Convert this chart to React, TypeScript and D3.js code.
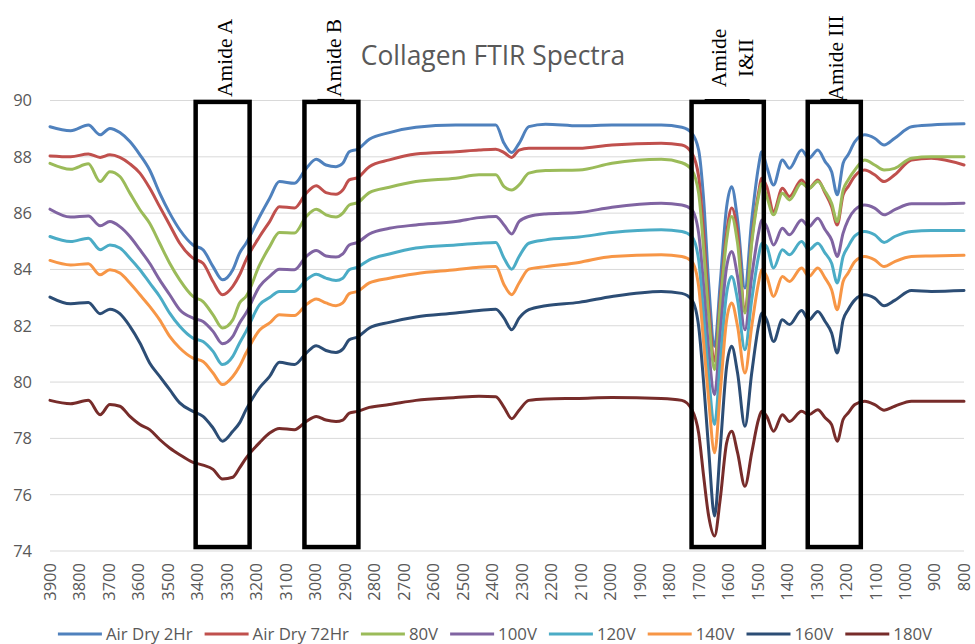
import React, { useEffect, useRef } from "react";
import * as d3 from "d3";

// wavenumber (cm-1) sample points
const wavenumbers = [
  3900, 3830, 3770, 3730, 3697, 3663, 3629, 3595, 3562, 3528,
  3494, 3460, 3415, 3381, 3347, 3315, 3280, 3257, 3235, 3189,
  3155, 3122, 3071, 3031, 2997, 2964, 2930, 2907, 2885, 2857,
  2817, 2749, 2659, 2524, 2445, 2388, 2360, 2334, 2309, 2276,
  2219, 2106, 1994, 1827, 1757, 1723, 1700, 1683, 1666, 1646,
  1627, 1605, 1588, 1568, 1543, 1520, 1497, 1486, 1469, 1446,
  1416, 1392, 1351, 1326, 1296, 1271, 1249, 1230, 1210, 1193,
  1170, 1137, 1103, 1071, 1035, 978, 911, 800,
];

const airDry2Hr = [
  89.07, 88.93, 89.13, 88.78, 89.01, 88.86, 88.54, 88.07, 87.53, 86.71,
  86.0, 85.41, 84.87, 84.7, 84.1, 83.63, 83.99, 84.58, 84.93, 85.88,
  86.53, 87.12, 87.06, 87.59, 87.91, 87.71, 87.65, 87.77, 88.18, 88.27,
  88.62, 88.86, 89.05, 89.13, 89.13, 89.13, 88.48, 88.15, 88.48, 89.07,
  89.16, 89.1, 89.13, 89.13, 89.05, 88.84, 88.24, 86.47, 83.5, 81.27,
  83.5, 86.23, 86.94, 85.76, 83.34, 85.76, 87.65, 88.18, 87.65, 87.0,
  87.89, 87.59, 88.24, 87.95, 88.24, 87.83, 87.47, 86.65, 87.77, 88.07,
  88.54, 88.78, 88.66, 88.42, 88.66, 89.07, 89.13, 89.17,
];

const airDry72Hr = [
  88.03, 88.0, 88.1, 87.98, 88.07, 87.98, 87.75, 87.42, 86.89, 86.23,
  85.58, 84.93, 84.4, 84.22, 83.57, 83.1, 83.4, 83.81, 84.34, 85.17,
  85.7, 86.23, 86.18, 86.71, 86.97, 86.73, 86.67, 86.82, 87.18, 87.26,
  87.65, 87.89, 88.1, 88.18, 88.24, 88.27, 88.15, 87.98, 88.24, 88.3,
  88.3, 88.3, 88.42, 88.48, 88.42, 88.13, 87.3, 85.28, 82.69, 80.75,
  82.92, 85.3, 86.18, 85.3, 82.5, 85.05, 86.71, 87.24, 86.94, 86.06,
  86.88, 86.59, 87.18, 86.88, 87.18, 86.71, 86.23, 85.58, 86.65, 86.94,
  87.32, 87.53, 87.36, 87.12, 87.36, 87.89, 87.95, 87.71,
];

const v80 = [
  87.77, 87.56, 87.75, 87.12, 87.47, 87.3, 86.71, 86.12, 85.64, 84.93,
  84.22, 83.63, 83.04, 82.86, 82.39, 81.92, 82.21, 82.81, 83.04, 84.16,
  84.81, 85.31, 85.29, 85.88, 86.14, 85.94, 85.86, 86.0, 86.29, 86.37,
  86.73, 86.92, 87.12, 87.24, 87.36, 87.36, 86.94, 86.82, 87.0, 87.42,
  87.51, 87.53, 87.77, 87.91, 87.79, 87.53, 86.71, 84.7, 82.33, 80.44,
  82.69, 85.05, 85.88, 84.93, 82.45, 84.93, 86.59, 87.06, 86.59, 85.94,
  86.71, 86.47, 87.06, 86.88, 87.12, 86.77, 86.35, 85.7, 86.82, 87.18,
  87.53, 87.89, 87.71, 87.53, 87.59, 87.95, 88.0, 88.0,
];

const v100 = [
  86.14, 85.86, 85.9, 85.55, 85.7, 85.52, 85.17, 84.7, 84.22, 83.63,
  83.1, 82.57, 82.27, 82.15, 81.8, 81.36, 81.62, 82.1, 82.45, 83.4,
  83.75, 84.01, 83.99, 84.46, 84.67, 84.48, 84.44, 84.55, 84.87, 84.96,
  85.26, 85.46, 85.58, 85.7, 85.84, 85.88, 85.58, 85.26, 85.7, 85.88,
  85.97, 86.02, 86.21, 86.35, 86.29, 86.12, 85.29, 83.4, 81.15, 79.55,
  81.74, 84.1, 84.64, 83.75, 81.86, 83.75, 85.29, 85.76, 85.52, 84.87,
  85.46, 85.23, 85.76, 85.52, 85.82, 85.41, 85.05, 84.46, 85.29, 85.76,
  86.12, 86.29, 86.18, 85.94, 86.12, 86.33, 86.33, 86.35,
];

const v120 = [
  85.17, 84.99, 85.11, 84.7, 84.87, 84.76, 84.4, 83.99, 83.52, 83.04,
  82.45, 81.98, 81.56, 81.44, 81.09, 80.62, 80.91, 81.39, 81.8, 82.75,
  83.0, 83.22, 83.22, 83.63, 83.83, 83.69, 83.61, 83.69, 83.99, 84.08,
  84.34, 84.55, 84.76, 84.87, 84.93, 84.96, 84.4, 84.01, 84.46, 84.93,
  85.05, 85.15, 85.31, 85.41, 85.35, 85.17, 84.34, 82.33, 80.2, 78.49,
  80.68, 83.16, 83.75, 82.92, 81.15, 82.92, 84.46, 84.93, 84.81, 84.05,
  84.7, 84.52, 84.99, 84.7, 84.93, 84.58, 84.22, 83.52, 84.46, 84.81,
  85.19, 85.35, 85.23, 84.96, 85.17, 85.35, 85.38, 85.38,
];

const v140 = [
  84.32, 84.16, 84.2, 83.81, 83.99, 83.87, 83.52, 83.1, 82.69, 82.21,
  81.62, 81.21, 80.85, 80.73, 80.32, 79.91, 80.2, 80.56, 81.03, 81.85,
  82.1, 82.39, 82.36, 82.75, 82.95, 82.81, 82.71, 82.81, 83.14, 83.22,
  83.52, 83.69, 83.85, 83.99, 84.08, 84.1, 83.46, 83.1, 83.52, 84.01,
  84.1, 84.25, 84.46, 84.52, 84.46, 84.28, 83.4, 81.39, 79.38, 77.49,
  79.61, 82.21, 82.81, 81.98, 80.32, 81.98, 83.52, 83.99, 83.75, 83.04,
  83.75, 83.57, 84.05, 83.75, 84.05, 83.69, 83.28, 82.57, 83.57, 83.87,
  84.28, 84.46, 84.34, 84.1, 84.28, 84.46, 84.48, 84.5,
];

const v160 = [
  83.02, 82.78, 82.83, 82.43, 82.59, 82.43, 81.98, 81.39, 80.68, 80.2,
  79.73, 79.26, 78.96, 78.78, 78.37, 77.9, 78.25, 78.55, 79.02, 79.8,
  80.2, 80.7, 80.62, 81.03, 81.29, 81.12, 81.05, 81.17, 81.5, 81.6,
  81.92, 82.12, 82.31, 82.45, 82.54, 82.59, 82.27, 81.86, 82.27, 82.57,
  82.71, 82.83, 83.04, 83.22, 83.15, 82.92, 81.98, 79.97, 77.6, 75.24,
  77.6, 80.56, 81.27, 80.32, 78.43, 80.32, 81.98, 82.45, 82.21, 81.44,
  82.21, 82.04, 82.54, 82.21, 82.51, 82.15, 81.74, 81.03, 82.21, 82.57,
  82.92, 83.1, 82.98, 82.71, 82.9, 83.25, 83.22, 83.25,
];

const v180 = [
  79.35, 79.23, 79.35, 78.84, 79.2, 79.14, 78.78, 78.49, 78.31, 77.96,
  77.66, 77.42, 77.15, 77.05, 76.9, 76.56, 76.62, 76.95, 77.3, 77.85,
  78.19, 78.35, 78.31, 78.6, 78.78, 78.65, 78.6, 78.65, 78.9, 78.96,
  79.1, 79.2, 79.35, 79.45, 79.5, 79.48, 79.1, 78.7, 79.0, 79.35,
  79.4, 79.42, 79.45, 79.42, 79.35, 79.02, 78.19, 76.65, 75.24, 74.53,
  75.83, 77.84, 78.25, 77.49, 76.3, 77.49, 78.67, 78.96, 78.78, 78.25,
  78.84, 78.6, 78.96, 78.84, 79.02, 78.73, 78.49, 77.9, 78.67, 78.9,
  79.2, 79.32, 79.2, 79.0, 79.14, 79.32, 79.32, 79.32,
];

const seriesNames = ["Air Dry 2Hr", "Air Dry 72Hr", "80V", "100V", "120V", "140V", "160V", "180V"];
const seriesValues = [airDry2Hr, airDry72Hr, v80, v100, v120, v140, v160, v180];
const seriesColors = ["#4F81BD", "#C0504D", "#9BBB59", "#8064A2", "#4BACC6", "#F79646", "#2C4D75", "#772C2A"];

const yTicks = [74, 76, 78, 80, 82, 84, 86, 88, 90];
const xTicks = [
  3900, 3800, 3700, 3600, 3500, 3400, 3300, 3200, 3100, 3000, 2900, 2800, 2700, 2600, 2500, 2400,
  2300, 2200, 2100, 2000, 1900, 1800, 1700, 1600, 1500, 1400, 1300, 1200, 1100, 1000, 900, 800,
];

// annotation boxes: wavenumber range + label lines
const amideLabels = [["Amide A"], ["Amide B"], ["Amide", "I&II"], ["Amide III"]];
const amideFrom = [3406, 3037, 1724, 1330];
const amideTo = [3223, 2854, 1479, 1150];

export default function App() {
  const svgRef = useRef<SVGSVGElement>(null);

  useEffect(() => {
    const w = 975;
    const h = 644;
    const svg = d3.select(svgRef.current).attr("width", w).attr("height", h);
    svg.selectAll("*").remove();

    const sans = "'Open Sans', sans-serif";
    const gray = "#595959";

    const xScale = d3.scaleLinear().domain([3900, 800]).range([50, 964]);
    const yScale = d3.scaleLinear().domain([74, 90]).range([551, 100.5]);

    // gridlines
    svg
      .append("g")
      .selectAll("line")
      .data(yTicks)
      .join("line")
      .attr("x1", xScale(3900))
      .attr("x2", xScale(800))
      .attr("y1", (d) => yScale(d))
      .attr("y2", (d) => yScale(d))
      .attr("stroke", "#D9D9D9")
      .attr("stroke-width", 1);

    // y labels
    svg
      .append("g")
      .selectAll("text")
      .data(yTicks)
      .join("text")
      .attr("x", 32)
      .attr("y", (d) => yScale(d))
      .attr("dy", "0.36em")
      .attr("text-anchor", "end")
      .style("font-family", sans)
      .style("font-size", "16.5px")
      .style("fill", gray)
      .text((d) => d);

    // x labels (rotated)
    svg
      .append("g")
      .selectAll("text")
      .data(xTicks)
      .join("text")
      .attr("transform", (d) => `translate(${xScale(d)},563) rotate(-90)`)
      .attr("dy", "0.36em")
      .attr("text-anchor", "end")
      .style("font-family", sans)
      .style("font-size", "16.5px")
      .style("fill", gray)
      .text((d) => d);

    const line = d3
      .line<number>()
      .x((d, i) => xScale(wavenumbers[i]))
      .y((d) => yScale(d))
      .curve(d3.curveMonotoneX);

    svg
      .append("g")
      .selectAll("path")
      .data(seriesValues)
      .join("path")
      .attr("d", (d) => line(d))
      .attr("fill", "none")
      .attr("stroke", (d, i) => seriesColors[i])
      .attr("stroke-width", 3)
      .attr("stroke-linejoin", "round")
      .attr("stroke-linecap", "round");

    // amide boxes
    const boxTop = yScale(89.95);
    const boxBottom = yScale(74.14);
    const boxes = svg.append("g");
    amideLabels.forEach((lines, i) => {
      const x0 = xScale(amideFrom[i]);
      const x1 = xScale(amideTo[i]);
      boxes
        .append("rect")
        .attr("x", x0)
        .attr("y", boxTop)
        .attr("width", x1 - x0)
        .attr("height", boxBottom - boxTop)
        .attr("fill", "none")
        .attr("stroke", "#000")
        .attr("stroke-width", 4.5);
      if (i > 0) {
        // little thick tab on top of the box (leftover from the label box)
        const cx = (x0 + x1) / 2;
        boxes
          .append("line")
          .attr("x1", cx - 14 - (lines.length > 1 ? 9 : 0))
          .attr("x2", cx + 13 + (lines.length > 1 ? 9 : 0))
          .attr("y1", boxTop - 1.5)
          .attr("y2", boxTop - 1.5)
          .attr("stroke", "#000")
          .attr("stroke-width", 3);
      }
      const cx = (x0 + x1) / 2 + 2;
      lines.forEach((t, j) => {
        const off = lines.length > 1 ? (j === 0 ? -11 : 16) : 0;
        boxes
          .append("text")
          .attr("transform", `translate(${cx + off},${boxTop - 44}) rotate(-90)`)
          .attr("dy", "0.33em")
          .attr("text-anchor", "middle")
          .style("font-family", "'Liberation Serif', 'Times New Roman', serif")
          .style("font-size", "21.5px")
          .style("fill", "#000")
          .text(t);
      });
    });

    // title
    svg
      .append("text")
      .attr("x", 493)
      .attr("y", 65)
      .attr("text-anchor", "middle")
      .style("font-family", sans)
      .style("font-size", "26.4px")
      .style("fill", gray)
      .text("Collagen FTIR Spectra");

    // legend
    const legend = svg.append("g");
    const items = seriesNames.map((name, i) => {
      const g = legend.append("g");
      g.append("line")
        .attr("x1", 0)
        .attr("x2", 44)
        .attr("y1", 634)
        .attr("y2", 634)
        .attr("stroke", seriesColors[i])
        .attr("stroke-width", 3);
      const txt = g
        .append("text")
        .attr("x", 48)
        .attr("y", 639.5)
        .style("font-family", sans)
        .style("font-size", "16.8px")
        .style("fill", gray)
        .text(name);
      const tw = (txt.node() as SVGTextElement).getComputedTextLength();
      return { g, width: 48 + tw };
    });
    const gap = 12;
    const total = d3.sum(items, (d) => d.width) + gap * (items.length - 1);
    let pos = 495 - total / 2;
    items.forEach((it) => {
      it.g.attr("transform", `translate(${pos},0)`);
      pos += it.width + gap;
    });
  }, []);

  return (
    <svg
      ref={svgRef}
      style={{ position: "absolute", left: 0, top: 0, background: "#FFFFFF", display: "block" }}
    ></svg>
  );
}
